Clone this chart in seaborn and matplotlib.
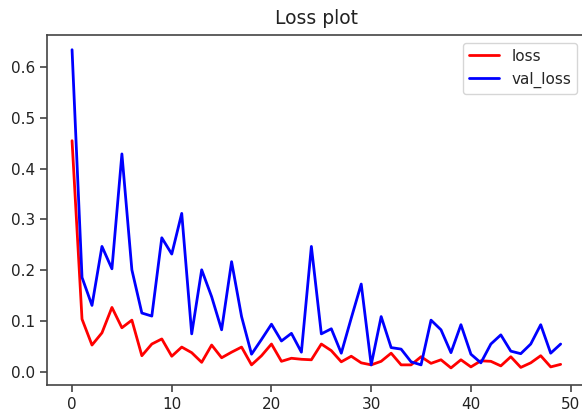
import matplotlib
matplotlib.use("Agg")
import matplotlib.pyplot as plt
import seaborn as sns
import pandas as pd

epochs = list(range(50))
loss = [0.455, 0.104, 0.053, 0.077, 0.127, 0.087, 0.102, 0.032, 0.055, 0.065,
        0.031, 0.049, 0.038, 0.019, 0.053, 0.028, 0.039, 0.049, 0.014, 0.032,
        0.055, 0.021, 0.027, 0.025, 0.024, 0.055, 0.042, 0.020, 0.031, 0.018,
        0.014, 0.021, 0.037, 0.014, 0.014, 0.030, 0.017, 0.024, 0.008, 0.024,
        0.010, 0.022, 0.021, 0.012, 0.030, 0.009, 0.018, 0.032, 0.010, 0.015]
val_loss = [0.634, 0.186, 0.131, 0.247, 0.203, 0.429, 0.201, 0.116, 0.110, 0.264,
            0.232, 0.312, 0.075, 0.201, 0.148, 0.083, 0.217, 0.109, 0.035, 0.064,
            0.094, 0.061, 0.076, 0.039, 0.247, 0.075, 0.085, 0.037, 0.106, 0.173,
            0.014, 0.109, 0.048, 0.045, 0.020, 0.014, 0.102, 0.083, 0.038, 0.093,
            0.035, 0.018, 0.055, 0.073, 0.041, 0.036, 0.055, 0.093, 0.037, 0.055]
title = "Loss plot"

sns.set_style("ticks")
plt.rcParams['font.family'] = ['DejaVu Sans']

df = pd.DataFrame({"epoch": epochs, "loss": loss, "val_loss": val_loss})

fig = plt.figure(figsize=(5.82, 4.13), dpi=100)
ax = fig.add_axes([0.0813, 0.0678, 0.924, 0.8475])

sns.lineplot(data=df, x="epoch", y="loss", color="red", linewidth=2.0, label="loss", ax=ax)
sns.lineplot(data=df, x="epoch", y="val_loss", color="blue", linewidth=2.0, label="val_loss", ax=ax)

ax.set_xlabel("")
ax.set_ylabel("")
ax.set_title(title, fontsize=13.5, color="#222222", pad=8)
ax.tick_params(labelsize=11, length=5, width=1.1, colors="#333333", labelcolor="#222222")
for s in ax.spines.values():
    s.set_visible(True)
    s.set_linewidth(1.2)
    s.set_color("#444444")
ax.set_xticks([0, 10, 20, 30, 40, 50])
ax.set_yticks([0.0, 0.1, 0.2, 0.3, 0.4, 0.5, 0.6])
ax.set_xlim(-2.48, 51.45)
ax.set_ylim(-0.0256, 0.663)
leg = ax.legend(loc="upper right", fontsize=11, frameon=True)
leg.get_frame().set_edgecolor("#cccccc")

fig.savefig("out.png", dpi=100)
